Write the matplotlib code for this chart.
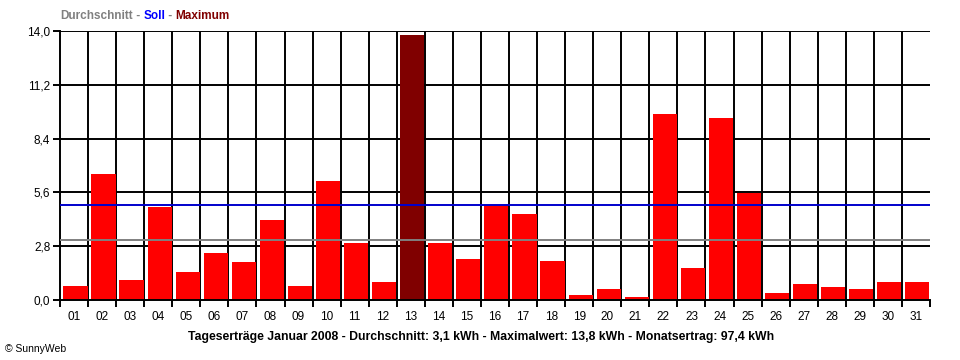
import numpy as np
import matplotlib
matplotlib.use("Agg")
import matplotlib.pyplot as plt
from matplotlib.ticker import FixedLocator, FuncFormatter

days = ["%02d" % d for d in range(1, 32)]
ertrag = [0.73, 6.55, 1.04, 4.84, 1.46, 2.44, 1.98, 4.16, 0.73, 6.19,
          2.96, 0.94, 13.8, 2.96, 2.13, 4.92, 4.47, 2.03, 0.26, 0.57,
          0.16, 9.67, 1.66, 9.46, 5.58, 0.36, 0.83, 0.68, 0.57, 0.94, 0.94]
durchschnitt = 3.1
soll = 4.92
yticks = [0.0, 2.8, 5.6, 8.4, 11.2, 14.0]

plt.rcParams['font.family'] = ['Liberation Sans', 'DejaVu Sans']

fig = plt.figure(figsize=(9.6, 3.6), dpi=100)
ax = fig.add_axes([60 / 960, 60 / 360, 870 / 960, 269 / 360])

imax = int(np.argmax(ertrag))
colors = ["#ff0000"] * len(ertrag)
colors[imax] = "#800000"
x = np.arange(len(ertrag))
ax.bar(x + 0.12, ertrag, width=0.86, align='edge', color=colors, zorder=3, linewidth=0)

# grid (behind bars)
for v in range(1, len(ertrag)):
    ax.axvline(v, color='black', lw=1.4, zorder=1)
for t in yticks[1:]:
    ax.axhline(t, color='black', lw=1.4, zorder=1)

# average / target lines on top
ax.axhline(durchschnitt, color='#808080', lw=1.4, zorder=4)
ax.axhline(soll, color='#0000cc', lw=1.4, zorder=4)

ax.set_xlim(0, len(ertrag))
ax.set_ylim(0, 14.0)
for s in ['top', 'right']:
    ax.spines[s].set_visible(False)
ax.spines['left'].set_linewidth(1.4)
ax.spines['bottom'].set_linewidth(1.4)
ax.spines['bottom'].set_zorder(5)

ax.set_yticks(yticks)
ax.yaxis.set_major_formatter(FuncFormatter(lambda v, p: ("%.1f" % v).replace('.', ',')))
ax.tick_params(axis='y', length=5, width=1.4, labelsize=8.5, pad=2)

ax.xaxis.set_major_locator(FixedLocator(range(0, len(ertrag) + 1)))
ax.xaxis.set_major_formatter(FuncFormatter(lambda v, p: ""))
ax.xaxis.set_minor_locator(FixedLocator(x + 0.5))
ax.set_xticklabels(days, minor=True)
ax.tick_params(axis='x', which='major', length=5, width=1.4)
ax.tick_params(axis='x', which='minor', length=0, labelsize=8.5, pad=8)

# header legend text
fs = 8.5
t1 = fig.text(60 / 960, 1 - 16 / 360, "Durchschnitt", color='#808080', fontsize=fs,
              fontweight='bold', va='center')
fig.canvas.draw()
r = fig.canvas.get_renderer()
def after(txt, s, c):
    bb = txt.get_window_extent(r)
    t = fig.text(bb.x1 / 960, 1 - 16 / 360, s, color=c, fontsize=fs,
                 fontweight='bold', va='center')
    return t
t2 = after(t1, " - ", '#808080')
t3 = after(t2, "Soll", '#0000ff')
t4 = after(t3, " - ", '#808080')
t5 = after(t4, "Maximum", '#800000')

fig.text(481 / 960, 1 - 337 / 360,
         "Tageserträge Januar 2008 - Durchschnitt: 3,1 kWh - Maximalwert: 13,8 kWh - Monatsertrag: 97,4 kWh",
         fontsize=8.8, fontweight='bold', ha='center', va='center')
fig.text(5 / 960, 1 - 349 / 360, "© SunnyWeb", fontsize=7.5, va='center')

fig.savefig("out.png", dpi=100)
